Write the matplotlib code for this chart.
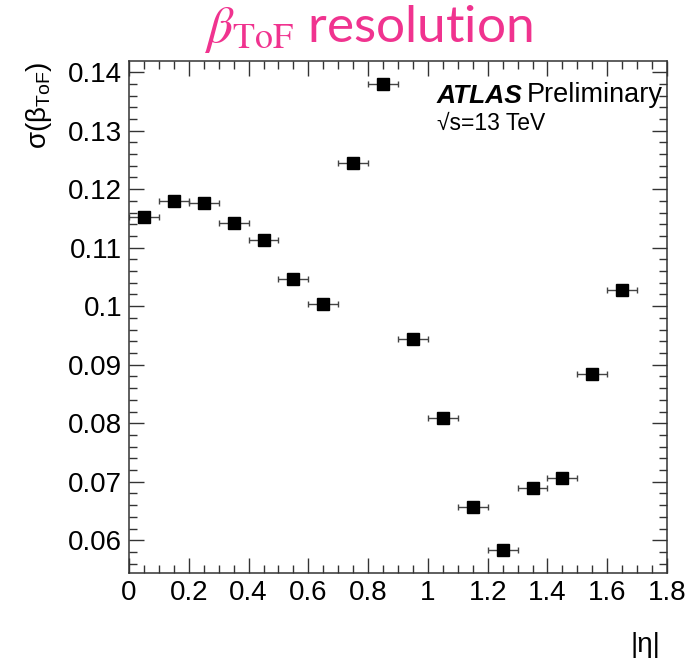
import matplotlib.pyplot as plt
from matplotlib.ticker import MultipleLocator, FuncFormatter

plt.rcParams['font.family'] = ['Liberation Sans', 'DejaVu Sans']
plt.rcParams['mathtext.fontset'] = 'custom'
plt.rcParams['mathtext.rm'] = 'Liberation Sans'
plt.rcParams['mathtext.it'] = 'Liberation Sans:italic'

# bin centres in |eta| and measured resolution
eta = [0.05, 0.15, 0.25, 0.35, 0.45, 0.55, 0.65, 0.75, 0.85,
       0.95, 1.05, 1.15, 1.25, 1.35, 1.45, 1.55, 1.65]
eta_err = [0.05] * len(eta)
sigma_beta = [0.1152, 0.1179, 0.1176, 0.1142, 0.1113, 0.1046, 0.1003, 0.1244, 0.1379,
              0.0944, 0.0809, 0.0657, 0.0583, 0.0689, 0.0706, 0.0884, 0.1027]

fig = plt.figure(figsize=(6.97, 6.59), dpi=100)
ax = fig.add_axes([129 / 697, 1 - 573 / 659, 538 / 697, 512 / 659])

ax.errorbar(eta, sigma_beta, xerr=eta_err, fmt='s', color='black', markersize=8,
            ecolor='#444444', elinewidth=1, capsize=2, capthick=1)

ax.set_xlim(0, 1.8)
ax.set_ylim(0.0544, 0.1419)

ax.xaxis.set_major_locator(MultipleLocator(0.2))
ax.xaxis.set_minor_locator(MultipleLocator(0.05))
ax.yaxis.set_major_locator(MultipleLocator(0.01))
ax.yaxis.set_minor_locator(MultipleLocator(0.002))
fmt = FuncFormatter(lambda v, p: '%g' % round(v, 4))
ax.xaxis.set_major_formatter(fmt)
ax.yaxis.set_major_formatter(fmt)

ax.tick_params(which='both', direction='in', top=True, right=True, labelsize=20,
               color='#333333', width=1)
ax.tick_params(which='major', length=11, pad=5)
ax.tick_params(which='minor', length=5.5)
for s in ax.spines.values():
    s.set_linewidth(1.1)
    s.set_color('#333333')

ax.set_ylabel('σ(β$_{\\mathrm{ToF}}$)', fontsize=20, loc='top', labelpad=10)
fig.text(660 / 697, 1 - 645 / 659, '|η|', fontsize=20, ha='right', va='center')

# ATLAS label, "Preliminary" placed right after it
atl = fig.text(437 / 697, 1 - 103 / 659, 'ATLAS', fontsize=19, fontweight='bold',
               fontstyle='italic', va='baseline')
ax.annotate('Preliminary', xy=(1, 0), xycoords=atl, xytext=(3, 0),
            textcoords='offset points', fontsize=19.5, va='bottom', ha='left')
fig.text(437 / 697, 1 - 130 / 659, '√s=13 TeV', fontsize=16.5, va='baseline')

fig.text(368 / 697, 1 - 42 / 659, r'$\beta_{\mathrm{ToF}}$ resolution', fontsize=37,
         color='#F0338F', ha='center', va='baseline', family=['Lato', 'DejaVu Sans'],
         math_fontfamily='stix')

fig.savefig('out.png', dpi=100)
